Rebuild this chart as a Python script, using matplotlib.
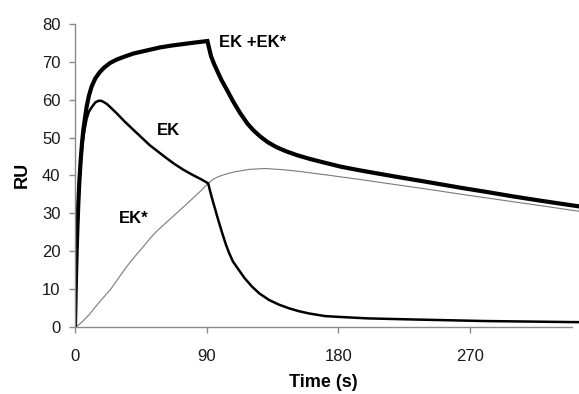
#!/usr/bin/env python

"""Sensorgram of EK, EK* and their sum (RU against time)."""

import matplotlib
matplotlib.use('Agg')
import matplotlib.pyplot as plt

matplotlib.rc('font', family=['Liberation Sans', 'DejaVu Sans'])

# Sum of both species, EK +EK*.
total_t = [0, 0.5, 1.1, 1.7, 2.3, 3, 3.9, 4.8, 5.7, 7, 8, 9.5, 11.4, 14, 17,
           20, 24, 28.5, 34, 40, 49, 58, 66, 74, 82, 90.5,
           93, 95, 97, 100, 103.7, 108, 112.8, 118, 122, 126.5, 132, 138,
           144.7, 152, 160, 170, 181.6, 195, 220, 240, 264, 280, 300, 320,
           344.5]
total_ru = [0, 10, 19.5, 26.5, 32.7, 38.5, 44, 48.5, 52, 55.6, 58.2, 61,
            63.5, 65.7, 67.3, 68.5, 69.7, 70.6, 71.4, 72.2, 73, 73.8, 74.3,
            74.7, 75.1, 75.5,
            71.5, 69.5, 67.8, 65.3, 62.7, 59.6, 56.5, 53.6, 51.9, 50.3, 48.7,
            47.4, 46.3, 45.3, 44.4, 43.4, 42.3, 41.3, 39.6, 38.3, 36.7, 35.7,
            34.4, 33.2, 31.8]

# EK alone.
ek_t = [0, 0.5, 1.1, 1.7, 2.3, 3, 3.9, 4.8, 5.7, 7, 8, 9.5, 11.4, 14, 16, 18,
        20, 22, 25, 28.5, 34, 40, 45, 51, 57, 62.7, 68, 74, 80, 86, 91,
        92, 93, 94.5, 96, 98, 100.5, 103, 105, 108, 112, 116, 121, 126,
        132.5, 139, 146, 153, 160, 171, 180, 200, 232, 280, 344.5]
ek_ru = [0, 9, 19, 26, 32, 37.5, 43, 47, 50, 53, 55, 56.8, 58, 59.3, 59.7,
         59.7, 59.3, 58.8, 57.7, 56.4, 54.2, 52, 50.2, 48, 46.2, 44.5, 43,
         41.5, 40.2, 39, 37.9,
         36.4, 34.9, 32.8, 30.8, 28.1, 24.9, 21.9, 19.8, 17.2, 15, 12.8,
         10.6, 8.8, 7.1, 5.9, 4.9, 4.1, 3.5, 2.8, 2.6, 2.2, 1.9, 1.5, 1.2]

# EK* alone.
eks_t = [0, 2, 4, 6, 8, 10, 12.5, 15, 18, 21, 24, 27.5, 30.8, 35.4, 41, 46.8,
         51, 55.8, 60, 66, 74, 81, 86, 91, 93, 95, 99,
         103.7, 110, 119.6, 130, 142, 152, 160, 174, 181.6, 195, 220, 240,
         264, 300, 320, 344.5]
eks_ru = [0, 0.3, 1, 1.7, 2.5, 3.3, 4.5, 5.7, 7.1, 8.4, 9.7, 11.6, 13.4, 15.9,
          18.6, 21.2, 23.2, 25.2, 26.7, 28.8, 31.6, 34.1, 35.9, 37.9, 38.5,
          39.1, 39.8, 40.4, 41, 41.6, 41.8, 41.5, 41.1, 40.7, 40.0, 39.6,
          38.9, 37.5, 36.4, 35.0, 33.0, 31.9, 30.5]

x_ticks = [0, 90, 180, 270]
y_ticks = [0, 10, 20, 30, 40, 50, 60, 70, 80]


def sensorgram(ax):
  """Draw the three binding curves and their labels on `ax`."""
  ax.plot(eks_t, eks_ru, color='#7a7a7a', lw=0.8)
  ax.plot(ek_t, ek_ru, color='black', lw=1.8, solid_joinstyle='miter')
  ax.plot(total_t, total_ru, color='black', lw=3.0, solid_joinstyle='miter')

  bold = dict(fontsize=12, fontweight='bold', va='center', ha='left')
  ax.text(98.6, 75.0, 'EK +EK*', **bold)
  ax.text(56.3, 51.8, 'EK', **bold)
  ax.text(30.3, 28.5, 'EK*', **bold)

  ax.set_xlim(0, 344.5)
  ax.set_ylim(0, 80)
  ax.set_xticks(x_ticks)
  ax.set_yticks(y_ticks)

  for side in ('top', 'right'):
    ax.spines[side].set_visible(False)
  for side in ('left', 'bottom'):
    ax.spines[side].set_color('#8a8a8a')
    ax.spines[side].set_linewidth(1.0)
  ax.spines['bottom'].set_bounds(0, 339.7)

  ax.tick_params(axis='both', direction='out', length=4, width=1.0,
                 color='#8a8a8a', labelsize=12, labelcolor='#1a1a1a')
  ax.tick_params(axis='y', pad=6.5)
  ax.tick_params(axis='x', pad=12)

  ax.set_xlabel('Time (s)', fontsize=13, fontweight='bold')
  ax.set_ylabel('RU', fontsize=13, fontweight='bold')
  ax.xaxis.set_label_coords(0.493, -0.155)
  ax.yaxis.set_label_coords(-0.088, 0.5)

  return ax


def main():
  fig = plt.figure(figsize=(5.79, 3.94), dpi=100)
  ax = fig.add_axes([0.1295, 0.1708, 0.8705, 0.7683])
  sensorgram(ax)
  fig.savefig('out.png', dpi=100)


if __name__ == "__main__":
  main()
